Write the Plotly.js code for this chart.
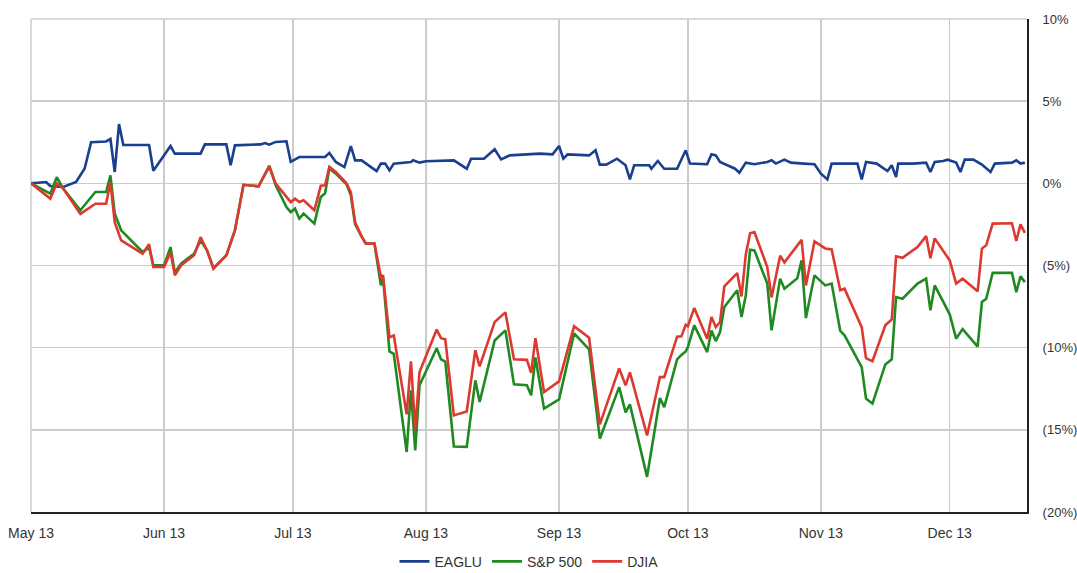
<!DOCTYPE html>
<html>
<head>
<meta charset="utf-8">
<script src="https://cdn.plot.ly/plotly-3.0.1.min.js"></script>
<style>
  html, body { margin: 0; padding: 0; background: #fff; }
  #chart { width: 1077px; height: 573px; }
</style>
</head>
<body>
<div id="chart"></div>
<script>
// ---- Data (cumulative return, %) ----
const eagluDates = [
  "2013-05-13","2013-05-16 12:00","2013-05-17 12:00","2013-05-20 12:00","2013-05-23 12:00","2013-05-25 12:00",
  "2013-05-27","2013-05-30 12:00","2013-05-31 12:00","2013-06-01 12:00","2013-06-02 12:00","2013-06-03 12:00",
  "2013-06-09 12:00","2013-06-10 12:00","2013-06-14 12:00","2013-06-15 12:00","2013-06-21 12:00","2013-06-22 12:00",
  "2013-06-27 12:00","2013-06-28 12:00","2013-06-29 12:00","2013-07-05 12:00","2013-07-06 12:00","2013-07-07 12:00",
  "2013-07-09","2013-07-11 12:00","2013-07-12 12:00","2013-07-14 12:00","2013-07-20 12:00","2013-07-21 12:00",
  "2013-07-23","2013-07-25","2013-07-26 12:00","2013-07-27 12:00","2013-07-29","2013-08-01 12:00",
  "2013-08-02 12:00","2013-08-03 12:00","2013-08-04 12:00","2013-08-05 12:00","2013-08-09 12:00","2013-08-10",
  "2013-08-11 12:00","2013-08-13","2013-08-19 12:00","2013-08-22 12:00","2013-08-23 12:00","2013-08-26 12:00",
  "2013-08-29","2013-08-30 12:00","2013-09-01 12:00","2013-09-08 12:00","2013-09-11 12:00","2013-09-13",
  "2013-09-14","2013-09-15","2013-09-20","2013-09-21 12:00","2013-09-22 12:00","2013-09-24",
  "2013-09-26 12:00","2013-09-28 12:00","2013-09-29 12:00","2013-09-30 12:00","2013-10-04","2013-10-04 12:00",
  "2013-10-06","2013-10-07 12:00","2013-10-10 12:00","2013-10-12 12:00","2013-10-13 12:00","2013-10-17 12:00",
  "2013-10-18 12:00","2013-10-19 12:00","2013-10-20 12:00","2013-10-24","2013-10-25","2013-10-26 12:00",
  "2013-10-28 12:00","2013-10-31 12:00","2013-11-01 12:00","2013-11-02 12:00","2013-11-04 12:00","2013-11-06",
  "2013-11-09","2013-11-11 12:00","2013-11-13","2013-11-14 12:00","2013-11-15 12:00","2013-11-21 12:00",
  "2013-11-22 12:00","2013-11-23 12:00","2013-11-26","2013-11-28 12:00","2013-11-29 12:00","2013-11-30 12:00",
  "2013-12-01","2013-12-04 12:00","2013-12-07 12:00","2013-12-08 12:00","2013-12-09 12:00","2013-12-11 12:00",
  "2013-12-12 12:00","2013-12-14 12:00","2013-12-15 12:00","2013-12-16 12:00","2013-12-18 12:00","2013-12-20 12:00",
  "2013-12-22 12:00","2013-12-23 12:00","2013-12-27 12:00","2013-12-28 12:00","2013-12-29 12:00","2013-12-30 12:00"
];
const eagluValues = [
  0.00,0.08,-0.16,-0.22,0.08,0.90,
  2.50,2.55,2.70,0.69,3.61,2.33,
  2.33,0.77,2.27,1.81,1.81,2.37,
  2.37,1.10,2.31,2.37,2.45,2.35,
  2.52,2.56,1.31,1.60,1.60,1.85,
  1.30,0.99,2.27,1.40,1.40,0.74,
  1.20,1.20,0.79,1.20,1.30,1.40,
  1.26,1.34,1.40,0.89,1.50,1.50,
  2.07,1.46,1.70,1.81,1.76,2.27,
  1.50,1.76,1.70,2.01,1.14,1.14,
  1.50,1.10,0.24,1.10,1.10,0.89,
  1.36,0.89,0.89,2.01,1.20,1.16,
  1.77,1.70,1.30,0.89,0.65,1.26,
  1.16,1.30,1.40,1.20,1.44,1.26,
  1.20,1.16,0.59,0.24,1.20,1.20,
  0.24,1.30,1.20,0.75,1.10,0.38,
  1.20,1.20,1.26,0.69,1.30,1.36,
  1.44,1.26,0.69,1.44,1.44,1.14,
  0.69,1.20,1.26,1.40,1.20,1.26
];

const indexDates = [
  "2013-05-13","2013-05-17 12:00","2013-05-19","2013-05-20 12:00","2013-05-24 12:00","2013-05-28",
  "2013-05-30 12:00","2013-05-31 12:00","2013-06-01 12:00","2013-06-03","2013-06-08","2013-06-09 12:00",
  "2013-06-10 12:00","2013-06-13","2013-06-14 12:00","2013-06-15 12:00","2013-06-17","2013-06-20",
  "2013-06-21 12:00","2013-06-23","2013-06-24 12:00","2013-06-27 12:00","2013-06-29 12:00","2013-07-01 12:00",
  "2013-07-05","2013-07-07 12:00","2013-07-09","2013-07-11 12:00","2013-07-12 12:00","2013-07-13 12:00",
  "2013-07-14 12:00","2013-07-15 12:00","2013-07-18","2013-07-19 12:00","2013-07-20 12:00","2013-07-21 12:00",
  "2013-07-23","2013-07-25 12:00","2013-07-26 12:00","2013-07-27 12:00","2013-07-29","2013-07-30",
  "2013-08-01","2013-08-02 12:00","2013-08-03","2013-08-04 12:00","2013-08-05 12:00","2013-08-08 12:00",
  "2013-08-09 12:00","2013-08-10 12:00","2013-08-11 12:00","2013-08-15 12:00","2013-08-16 12:00","2013-08-17 12:00",
  "2013-08-19 12:00","2013-08-22 12:00","2013-08-24 12:00","2013-08-25 12:00","2013-08-29","2013-08-31 12:00",
  "2013-09-02 12:00","2013-09-05 12:00","2013-09-06 12:00","2013-09-07 12:00","2013-09-09 12:00","2013-09-13",
  "2013-09-16 12:00","2013-09-20","2013-09-22 12:00","2013-09-27","2013-09-28 12:00","2013-09-29 12:00",
  "2013-10-03 12:00","2013-10-06 12:00","2013-10-07 12:00","2013-10-10 12:00","2013-10-11 12:00","2013-10-12 12:00",
  "2013-10-13","2013-10-14 12:00","2013-10-17 12:00","2013-10-18 12:00","2013-10-19 12:00","2013-10-20 12:00",
  "2013-10-21 12:00","2013-10-24 12:00","2013-10-25 12:00","2013-10-26 12:00","2013-10-27 12:00","2013-10-28 12:00",
  "2013-10-31 12:00","2013-11-01 12:00","2013-11-03 12:00","2013-11-04 12:00","2013-11-07 12:00","2013-11-08 12:00",
  "2013-11-09 12:00","2013-11-11 12:00","2013-11-14","2013-11-15 12:00","2013-11-17 12:00","2013-11-18 12:00",
  "2013-11-22 12:00","2013-11-23 12:00","2013-11-25","2013-11-28","2013-11-29 12:00","2013-11-30 12:00",
  "2013-12-02","2013-12-05 12:00","2013-12-07 12:00","2013-12-08 12:00","2013-12-09 12:00","2013-12-13",
  "2013-12-14 12:00","2013-12-16","2013-12-19 12:00","2013-12-20 12:00","2013-12-21 12:00","2013-12-23",
  "2013-12-27 12:00","2013-12-28 12:00","2013-12-29 12:00","2013-12-30 12:00"
];
const djiaValues = [
  0.00,-0.93,0.00,-0.32,-1.86,-1.24,
  -1.24,0.06,-2.36,-3.47,-4.28,-3.71,
  -5.09,-5.09,-4.20,-5.60,-4.99,-4.38,
  -3.27,-4.08,-5.19,-4.38,-2.86,-0.09,
  -0.18,1.02,-0.02,-0.79,-1.14,-0.93,
  -1.14,-1.03,-1.64,-0.15,-0.12,1.00,
  0.69,0.00,-0.55,-2.37,-3.23,-3.67,
  -3.67,-5.70,-5.60,-9.37,-9.25,-14.06,
  -10.83,-14.97,-11.48,-8.90,-9.42,-9.49,
  -14.12,-13.88,-10.16,-11.14,-8.44,-7.85,
  -10.71,-10.74,-11.53,-9.42,-12.70,-12.05,
  -8.70,-9.40,-14.67,-11.26,-12.29,-11.50,
  -15.34,-11.79,-11.79,-9.33,-9.31,-8.61,
  -8.70,-7.58,-9.45,-8.14,-8.75,-8.44,
  -6.27,-5.46,-6.88,-4.32,-3.04,-2.96,
  -5.09,-6.94,-4.41,-4.81,-3.77,-3.44,
  -6.21,-3.53,-3.96,-4.02,-6.51,-6.41,
  -8.75,-10.64,-10.83,-8.64,-8.28,-4.44,
  -4.53,-3.88,-3.21,-4.56,-3.35,-4.69,
  -6.10,-5.80,-6.57,-3.97,-3.77,-2.45,
  -2.43,-3.51,-2.50,-3.01
];
const sp500Values = [
  0.00,-0.63,0.37,-0.32,-1.64,-0.53,
  -0.53,0.49,-1.84,-2.86,-4.18,-3.90,
  -4.99,-4.99,-3.88,-5.42,-4.87,-4.28,
  -3.47,-4.08,-5.17,-4.38,-2.86,-0.09,
  -0.18,1.07,-0.12,-1.44,-1.75,-1.54,
  -2.15,-1.84,-2.45,-0.83,-0.61,0.91,
  0.59,-0.06,-0.73,-2.50,-3.23,-3.67,
  -3.67,-6.21,-5.72,-10.23,-10.37,-16.35,
  -12.60,-16.25,-12.29,-10.04,-10.71,-10.85,
  -16.01,-16.04,-11.99,-13.31,-9.56,-8.95,
  -12.23,-12.29,-12.90,-10.59,-13.71,-13.15,
  -9.13,-10.10,-15.54,-12.40,-13.94,-13.45,
  -17.86,-13.06,-13.62,-10.71,-10.44,-10.23,
  -9.96,-8.64,-10.27,-8.95,-9.60,-9.05,
  -7.53,-6.51,-8.14,-6.82,-4.04,-4.08,
  -6.10,-8.95,-5.80,-6.41,-5.78,-4.69,
  -8.20,-5.60,-6.21,-6.10,-8.98,-9.25,
  -11.18,-13.10,-13.41,-11.02,-10.71,-6.92,
  -7.02,-6.10,-5.80,-7.73,-6.21,-7.97,
  -9.45,-8.87,-9.94,-7.22,-7.02,-5.45,
  -5.45,-6.62,-5.66,-6.01
];

const seriesNames = ["EAGLU", "S&P 500", "DJIA"];
const yTickValues = [10, 5, 0, -5, -10, -15, -20];
const yTickLabels = ["10%", "5%", "0%", "(5%)", "(10%)", "(15%)", "(20%)"];
const xRange = ["2013-05-13", "2013-12-31"];

// ---- Chart ----
const font = "Liberation Sans, Arial, Helvetica, sans-serif";
const gridColor = "#cccccc";
const traces = [
  { x: eagluDates, y: eagluValues, name: seriesNames[0], type: "scatter", mode: "lines",
    line: { color: "#1b3f8f", width: 2.6 } },
  { x: indexDates, y: sp500Values, name: seriesNames[1], type: "scatter", mode: "lines",
    line: { color: "#1f8a22", width: 2.6 } },
  { x: indexDates, y: djiaValues, name: seriesNames[2], type: "scatter", mode: "lines",
    line: { color: "#dc3a30", width: 2.6 } }
];

const layout = {
  width: 1077, height: 573,
  margin: { l: 31, r: 50, t: 19, b: 61, autoexpand: false },
  paper_bgcolor: "#ffffff", plot_bgcolor: "#ffffff",
  font: { family: font, size: 13, color: "#333333" },
  showlegend: true,
  legend: {
    orientation: "h", x: 0.5, xanchor: "center", y: -0.101, yanchor: "middle",
    font: { family: font, size: 14, color: "#333333" },
    bgcolor: "rgba(0,0,0,0)"
  },
  shapes: [
    { type: "line", xref: "paper", yref: "paper", x0: 0, x1: 1, y0: 1, y1: 1,
      line: { color: gridColor, width: 1.5 }, layer: "below" },
    { type: "line", xref: "paper", yref: "paper", x0: 0, x1: 0, y0: 0, y1: 1,
      line: { color: gridColor, width: 1.5 }, layer: "below" }
  ],
  xaxis: {
    type: "date", range: xRange,
    tick0: "2013-05-13", dtick: "M1", tickformat: "%b %d",
    showgrid: true, gridcolor: gridColor, gridwidth: 1.5,
    showline: true, linecolor: "#222222", linewidth: 2,
    zeroline: false, ticks: "", ticklabelstandoff: 7,
    tickfont: { family: font, size: 14, color: "#333333" }
  },
  yaxis: {
    side: "right", range: [-20, 10],
    tickmode: "array", tickvals: yTickValues, ticktext: yTickLabels,
    showgrid: true, gridcolor: gridColor, gridwidth: 1.5,
    showline: true, linecolor: "#222222", linewidth: 2,
    zeroline: false, ticks: "", ticklabelstandoff: 11,
    tickfont: { family: font, size: 13, color: "#333333" }
  }
};

Plotly.newPlot("chart", traces, layout, { staticPlot: true, displayModeBar: false });
</script>
</body>
</html>
